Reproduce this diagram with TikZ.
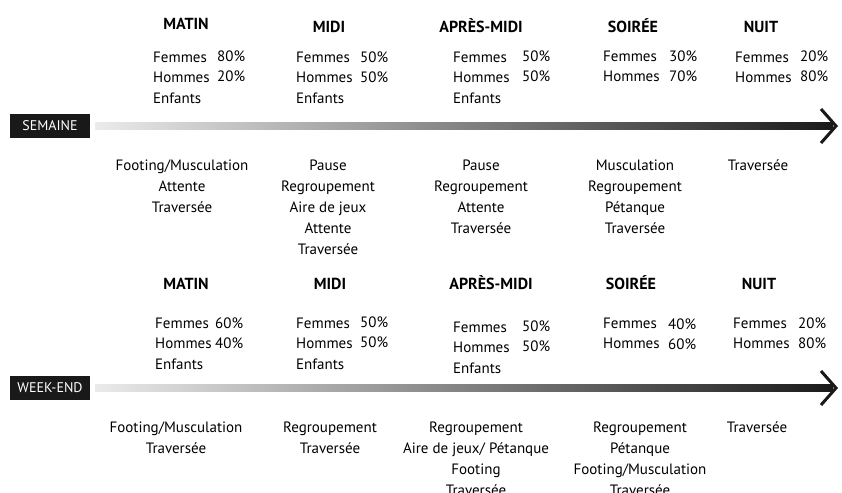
\documentclass[tikz,border=0pt]{standalone}
\usepackage{fontspec}
\setmainfont{PT Sans}
\usetikzlibrary{positioning,calc}

\begin{document}
\begin{tikzpicture}[x=1pt, y=-1pt, font=\fontsize{15}{21}\selectfont,
	hdr/.style={font=\fontsize{16}{19}\selectfont\bfseries, anchor=base, inner sep=0pt},
	grp/.style={align=left, anchor=north west, inner sep=0pt, yshift=10.5pt,
		font=\fontsize{15}{20.5}\selectfont},
	act/.style={align=center, anchor=north, inner sep=0pt, yshift=10.5pt},
	tag/.style={fill=black!90, text=white, font=\fontsize{14}{17}\selectfont,
		minimum width=80pt, minimum height=24pt, inner sep=0pt},
	bar/.style={left color=black!8, right color=black!90},
	tip/.style={draw=black!90, line width=3pt}]
		\useasboundingbox (0,0) rectangle (842,492);
		% semaine
		\node[hdr] (sMatin) at (186,30) {MATIN};
		\node[hdr] (sMidi) at (329,33) {MIDI};
		\node[hdr] (sAprem) at (481,33) {APRÈS-MIDI};
		\node[hdr] (sSoir) at (633,33) {SOIRÉE};
		\node[hdr] (sNuit) at (761,33) {NUIT};
		\node[grp] (sMatinLab) at (153,62) {Femmes\\Hommes\\Enfants};
		\node[grp] (sMatinPct) at (217,61) {80\%\\20\%};
		\node[grp] (sMidiLab) at (296,62) {Femmes\\Hommes\\Enfants};
		\node[grp] (sMidiPct) at (360,62) {50\%\\50\%};
		\node[grp] (sApremLab) at (453,62) {Femmes\\Hommes\\Enfants};
		\node[grp] (sApremPct) at (522,61) {50\%\\50\%};
		\node[grp] (sSoirLab) at (603,61) {Femmes\\Hommes};
		\node[grp] (sSoirPct) at (669,61) {30\%\\70\%};
		\node[grp] (sNuitLab) at (735,62) {Femmes\\Hommes};
		\node[grp] (sNuitPct) at (800,61) {20\%\\80\%};
		\node[tag] (sem) at (50,126) {SEMAINE};
		\coordinate (semEnd) at (836,126);
		\shade[bar] ($(sem.east)+(5,-3.5)$) rectangle ($(semEnd)+(-3,3.5)$);
		\draw[tip] ($(semEnd)+(-15,-17)$) -- (semEnd) -- ($(semEnd)+(-15,17)$);
		\node[act] (sMatinAct) at (182,170) {Footing/Musculation\\Attente\\Traversée};
		\node[act] (sMidiAct) at (328,170) {Pause\\Regroupement\\Aire de jeux\\Attente\\Traversée};
		\node[act] (sApremAct) at (481,170) {Pause\\Regroupement\\Attente\\Traversée};
		\node[act] (sSoirAct) at (635,170) {Musculation\\Regroupement\\Pétanque\\Traversée};
		\node[act] (sNuitAct) at (758,170) {Traversée};
		% week-end
		\node[hdr] (wMatin) at (186,289) {MATIN};
		\node[hdr] (wMidi) at (330,289) {MIDI};
		\node[hdr] (wAprem) at (491,289) {APRÈS-MIDI};
		\node[hdr] (wSoir) at (631,289) {SOIRÉE};
		\node[hdr] (wNuit) at (759,289) {NUIT};
		\node[grp] (wMatinLab) at (155,328) {Femmes\\Hommes\\Enfants};
		\node[grp] (wMatinPct) at (215,328) {60\%\\40\%};
		\node[grp] (wMidiLab) at (296,328) {Femmes\\Hommes\\Enfants};
		\node[grp] (wMidiPct) at (360,327) {50\%\\50\%};
		\node[grp] (wApremLab) at (453,332) {Femmes\\Hommes\\Enfants};
		\node[grp] (wApremPct) at (522,331) {50\%\\50\%};
		\node[grp] (wSoirLab) at (603,328) {Femmes\\Hommes};
		\node[grp] (wSoirPct) at (668,329) {40\%\\60\%};
		\node[grp] (wNuitLab) at (733,328) {Femmes\\Hommes};
		\node[grp] (wNuitPct) at (798,328) {20\%\\80\%};
		\node[tag] (we) at (50,388) {WEEK-END};
		\coordinate (weEnd) at (836,388);
		\shade[bar] ($(we.east)+(5,-3.5)$) rectangle ($(weEnd)+(-3,3.5)$);
		\draw[tip] ($(weEnd)+(-15,-17)$) -- (weEnd) -- ($(weEnd)+(-15,17)$);
		\node[act] (wMatinAct) at (176,432) {Footing/Musculation\\Traversée};
		\node[act] (wMidiAct) at (330,432) {Regroupement\\Traversée};
		\node[act] (wApremAct) at (476,432) {Regroupement\\Aire de jeux/ Pétanque\\Footing\\Traversée};
		\node[act] (wSoirAct) at (640,432) {Regroupement\\Pétanque\\Footing/Musculation\\Traversée};
		\node[act] (wNuitAct) at (757,432) {Traversée};
	\end{tikzpicture}
\end{document}
